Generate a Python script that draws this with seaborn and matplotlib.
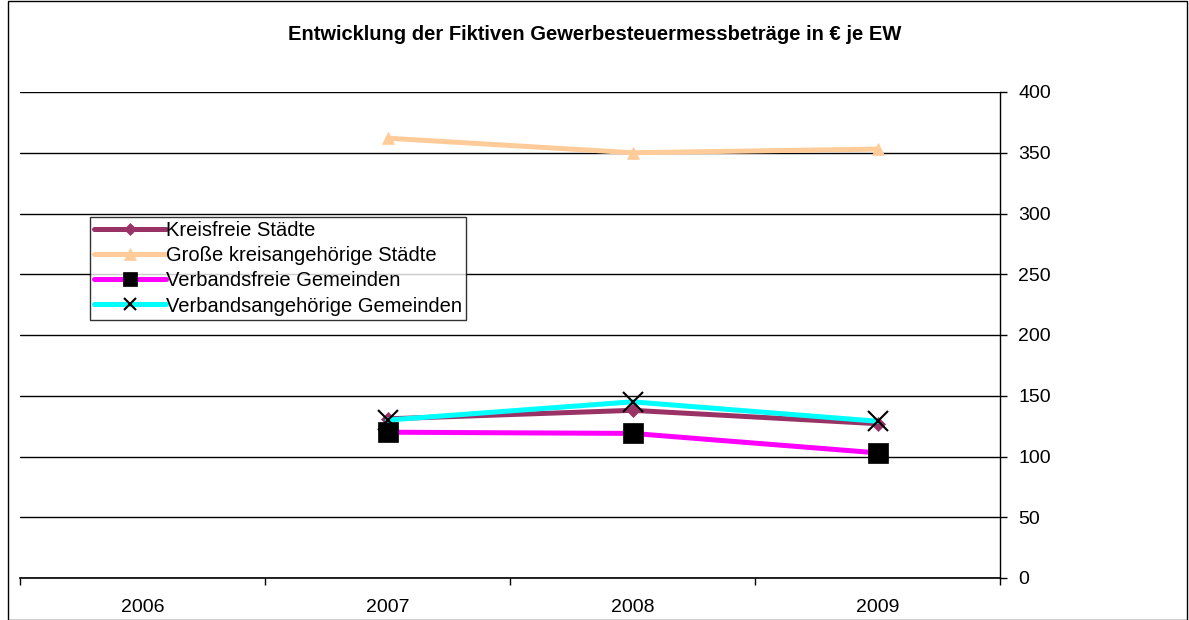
import numpy as np
import pandas as pd
import matplotlib
matplotlib.use('Agg')
import matplotlib.pyplot as plt
import seaborn as sns
from matplotlib.patches import Rectangle

# Daten (2006 ohne Werte)
jahre = ['2006', '2007', '2008', '2009']
kreisfreie = [np.nan, 131, 138, 127]
grosse_kreisang = [np.nan, 362, 350, 353]
verbandsfreie = [np.nan, 120, 119, 103]
verbandsang = [np.nan, 130, 145, 129]

reihen = {
    'Kreisfreie Städte': kreisfreie,
    'Große kreisangehörige Städte': grosse_kreisang,
    'Verbandsfreie Gemeinden': verbandsfreie,
    'Verbandsangehörige Gemeinden': verbandsang,
}

# Stil je Reihe: Linienfarbe, Marker, Markerfarbe, Markergroesse (Grafik / Legende)
stile = {
    'Kreisfreie Städte': ('#993366', 'D', '#993366', 7, 6),
    'Große kreisangehörige Städte': ('#FFCC99', '^', '#FFCC99', 9, 8),
    'Verbandsfreie Gemeinden': ('#FF00FF', 's', '#000000', 15, 10),
    'Verbandsangehörige Gemeinden': ('#00FFFF', 'x', '#000000', 15, 9),
}

df = pd.DataFrame(reihen)
df['pos'] = np.arange(len(jahre))

sns.set_style('white')
plt.rcParams['font.family'] = ['Liberation Sans', 'DejaVu Sans']
plt.rcParams['text.color'] = 'black'
plt.rcParams['xtick.color'] = 'black'
plt.rcParams['ytick.color'] = 'black'

fig = plt.figure(figsize=(11.89, 6.2), dpi=100)
ax = fig.add_axes([20 / 1189, 42 / 620, 980 / 1189, 486 / 620])

for name in reihen:
    farbe, marker, mfarbe, ms, _ = stile[name]
    sns.lineplot(data=df, x='pos', y=name, ax=ax, color=farbe, linewidth=3.6,
                 marker=marker, markersize=ms, markerfacecolor=mfarbe,
                 markeredgecolor=mfarbe, markeredgewidth=1.5 if marker == 'x' else 0.5,
                 label=name)

ax.set_xlim(-0.5, len(jahre) - 0.5)
ax.set_ylim(0, 400)
ax.set_yticks(np.arange(0, 401, 50))
ax.yaxis.tick_right()
ax.yaxis.set_label_position('right')
ax.tick_params(axis='y', which='major', direction='out', length=5, width=1,
               color='black', labelsize=14, pad=8, right=True, left=False)

# Jahresbeschriftung mittig, Teilstriche an den Grenzen
ax.set_xticks(np.arange(len(jahre)))
ax.set_xticklabels(jahre, fontsize=14)
ax.set_xticks(np.arange(-0.5, len(jahre), 1), minor=True)
ax.tick_params(axis='x', which='major', length=0, pad=15)
ax.tick_params(axis='x', which='minor', direction='out', length=5, width=1,
               color='black', bottom=True)
ax.set_xlabel('')
ax.set_ylabel('')

ax.yaxis.grid(True, color='black', linewidth=1)
ax.xaxis.grid(False)
for s in ['top', 'left']:
    ax.spines[s].set_visible(False)
ax.spines['right'].set_color('black')
ax.spines['bottom'].set_color('black')
ax.spines['right'].set_linewidth(1)
ax.spines['bottom'].set_linewidth(1.2)

leg = ax.legend(loc='upper left', bbox_to_anchor=(0.071, 0.742), fontsize=14.5,
                frameon=True, fancybox=False, borderpad=0.2, labelspacing=0.3,
                handlelength=3.6, handletextpad=0.0, borderaxespad=0)
leg.get_frame().set_edgecolor('black')
leg.get_frame().set_linewidth(1)
for h, name in zip(leg.legend_handles, reihen):
    h.set_markersize(stile[name][4])

fig.text(0.5, 1 - 35 / 620, 'Entwicklung der Fiktiven Gewerbesteuermessbeträge in € je EW',
         ha='center', va='center', fontsize=14.5, fontweight='bold')

# Rahmen um die Grafik
fig.patches.append(Rectangle((8 / 1189, 0), 1 - 8 / 1189 - 2 / 1189, 1 - 1 / 620,
                             transform=fig.transFigure, fill=False,
                             edgecolor='black', linewidth=1))

fig.savefig('out.png', dpi=100)
